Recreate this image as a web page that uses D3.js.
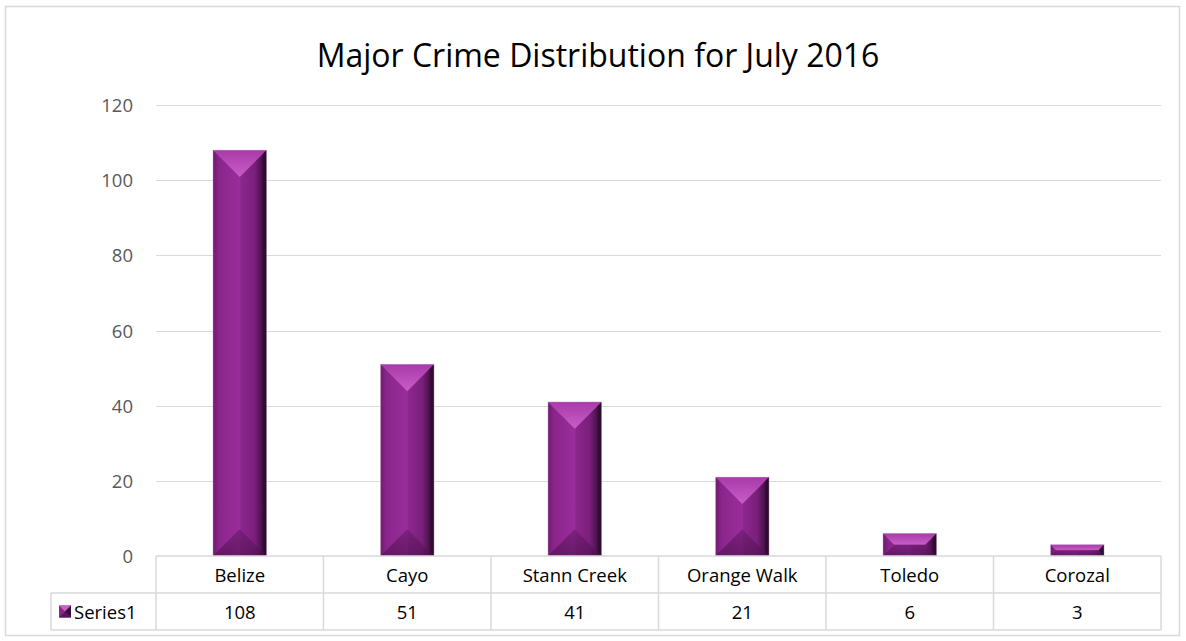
<!DOCTYPE html>
<html lang="en">
<head>
<meta charset="UTF-8">
<script src="https://d3js.org/d3.v7.min.js"></script>
<style>
  body { margin: 0; background: #fff; font-family: "Open Sans", Lato, sans-serif; }
</style>
</head>
<body>
<script>
const categories = ["Belize", "Cayo", "Stann Creek", "Orange Walk", "Toledo", "Corozal"];
const values = [108, 51, 41, 21, 6, 3];
const seriesName = "Series1";
const yTicks = [0, 20, 40, 60, 80, 100, 120];

const W = 1186, H = 641;
const plot = {left: 156, right: 1161, top: 105, bottom: 556};
const tableRows = [556, 593, 630];
const legendLeft = 51;
const fs = 18.5;

const svg = d3.select("body").append("svg").attr("width", W).attr("height", H);
const defs = svg.append("defs");

// side gradient of the bars
const g1 = defs.append("linearGradient").attr("id", "barSide");
g1.append("stop").attr("offset", "0%").attr("stop-color", "#6f1c70");
g1.append("stop").attr("offset", "12%").attr("stop-color", "#8a268b");
g1.append("stop").attr("offset", "50%").attr("stop-color", "#9a2d9b");
g1.append("stop").attr("offset", "52%").attr("stop-color", "#8c278d");
g1.append("stop").attr("offset", "78%").attr("stop-color", "#7a1f7b");
g1.append("stop").attr("offset", "100%").attr("stop-color", "#2a0a2b");

const g2 = defs.append("linearGradient").attr("id", "barTop").attr("x1", 0).attr("y1", 0).attr("x2", 0).attr("y2", 1);
g2.append("stop").attr("offset", "0%").attr("stop-color", "#a93aa9");
g2.append("stop").attr("offset", "100%").attr("stop-color", "#c85ec8");

const g3 = defs.append("linearGradient").attr("id", "barBottom").attr("x1", 0).attr("y1", 0).attr("x2", 0).attr("y2", 1);
g3.append("stop").attr("offset", "0%").attr("stop-color", "#6a1a6b");
g3.append("stop").attr("offset", "100%").attr("stop-color", "#4a0f4b");

// outer frame
svg.append("rect").attr("x", 5.5).attr("y", 6.5).attr("width", 1174).attr("height", 629)
  .attr("fill", "#fff").attr("stroke", "#d9d9d9").attr("stroke-width", 1.5);

svg.append("text").attr("x", 598).attr("y", 67).attr("text-anchor", "middle")
  .attr("font-size", 32).attr("fill", "#000").text("Major Crime Distribution for July 2016");

const x = d3.scaleBand().domain(categories).range([plot.left, plot.right]).paddingInner(0).paddingOuter(0);
const y = d3.scaleLinear().domain([0, 120]).range([plot.bottom, plot.top]);

// gridlines
svg.append("g").selectAll("line").data(yTicks.filter(t => t > 0)).join("line")
  .attr("x1", plot.left).attr("x2", plot.right)
  .attr("y1", d => Math.round(y(d)) + 0.5).attr("y2", d => Math.round(y(d)) + 0.5)
  .attr("stroke", "#d9d9d9").attr("stroke-width", 1);

svg.append("g").selectAll("text").data(yTicks).join("text")
  .attr("x", 133).attr("y", d => y(d) + 7).attr("text-anchor", "end")
  .attr("font-size", fs).attr("fill", "#595959").text(d => d);

// bars
const bw = x.bandwidth() * 0.32;
const bars = svg.append("g").selectAll("g").data(values).join("g");
bars.each(function(v, i) {
  const g = d3.select(this);
  const cx = x(categories[i]) + x.bandwidth() / 2;
  const x0 = cx - bw / 2, x1 = cx + bw / 2;
  const y0 = y(v), y1 = y(0);
  const h = y1 - y0;
  const d = Math.min(bw / 2, h / 2);
  g.append("rect").attr("x", x0).attr("y", y0).attr("width", bw).attr("height", h).attr("fill", "url(#barSide)");
  g.append("polygon").attr("fill", "url(#barTop)")
    .attr("points", [[x0, y0], [x1, y0], [x1 - d, y0 + d], [x0 + d, y0 + d]].map(p => p.join(",")).join(" "));
  g.append("polygon").attr("fill", "url(#barBottom)").attr("opacity", 0.6)
    .attr("points", [[x0, y1], [x1, y1], [x1 - d, y1 - d], [x0 + d, y1 - d]].map(p => p.join(",")).join(" "));
  g.append("polygon").attr("fill", "#2a0a2b").attr("opacity", 0.5)
    .attr("points", [[x1, y0], [x1, y1], [x1 - Math.min(4, d), y1 - Math.min(4, d)], [x1 - Math.min(4, d), y0 + Math.min(4, d)]].map(p => p.join(",")).join(" "));
  g.append("rect").attr("x", x0).attr("y", y0).attr("width", bw).attr("height", h)
    .attr("fill", "none").attr("stroke", "#e4c4e4").attr("stroke-width", 0.6).attr("stroke-opacity", 0.6);
});

// data table
const tbl = svg.append("g").attr("stroke", "#d9d9d9").attr("stroke-width", 1.5).attr("fill", "none");
tbl.append("line").attr("x1", plot.left).attr("x2", plot.right).attr("y1", tableRows[0]).attr("y2", tableRows[0]);
tbl.append("line").attr("x1", legendLeft).attr("x2", plot.right).attr("y1", tableRows[1]).attr("y2", tableRows[1]);
tbl.append("line").attr("x1", legendLeft).attr("x2", plot.right).attr("y1", tableRows[2]).attr("y2", tableRows[2]);
tbl.append("line").attr("x1", legendLeft).attr("x2", legendLeft).attr("y1", tableRows[1]).attr("y2", tableRows[2]);
tbl.selectAll("line.v").data(categories.map(c => x(c)).concat([plot.right])).join("line")
  .attr("class", "v").attr("x1", d => d).attr("x2", d => d).attr("y1", tableRows[0]).attr("y2", tableRows[2]);

svg.append("g").selectAll("text").data(categories).join("text")
  .attr("x", d => x(d) + x.bandwidth() / 2).attr("y", (tableRows[0] + tableRows[1]) / 2 + 7)
  .attr("text-anchor", "middle").attr("font-size", fs).attr("fill", "#000").text(d => d);

svg.append("g").selectAll("text").data(values).join("text")
  .attr("x", (d, i) => x(categories[i]) + x.bandwidth() / 2).attr("y", (tableRows[1] + tableRows[2]) / 2 + 7)
  .attr("text-anchor", "middle").attr("font-size", fs).attr("fill", "#000").text(d => d);

// legend key
const ky = (tableRows[1] + tableRows[2]) / 2;
const key = svg.append("g");
key.append("rect").attr("x", 59).attr("y", ky - 6).attr("width", 12).attr("height", 12).attr("fill", "#8a268b");
key.append("polygon").attr("points", `59,${ky - 6} 71,${ky - 6} 65,${ky}`).attr("fill", "#c85ec8");
key.append("polygon").attr("points", `71,${ky - 6} 71,${ky + 6} 65,${ky}`).attr("fill", "#3a0c3b");
key.append("polygon").attr("points", `59,${ky + 6} 71,${ky + 6} 65,${ky}`).attr("fill", "#5a155b");
svg.append("text").attr("x", 74).attr("y", ky + 7).attr("font-size", fs).attr("fill", "#000").text(seriesName);
</script>
</body>
</html>
